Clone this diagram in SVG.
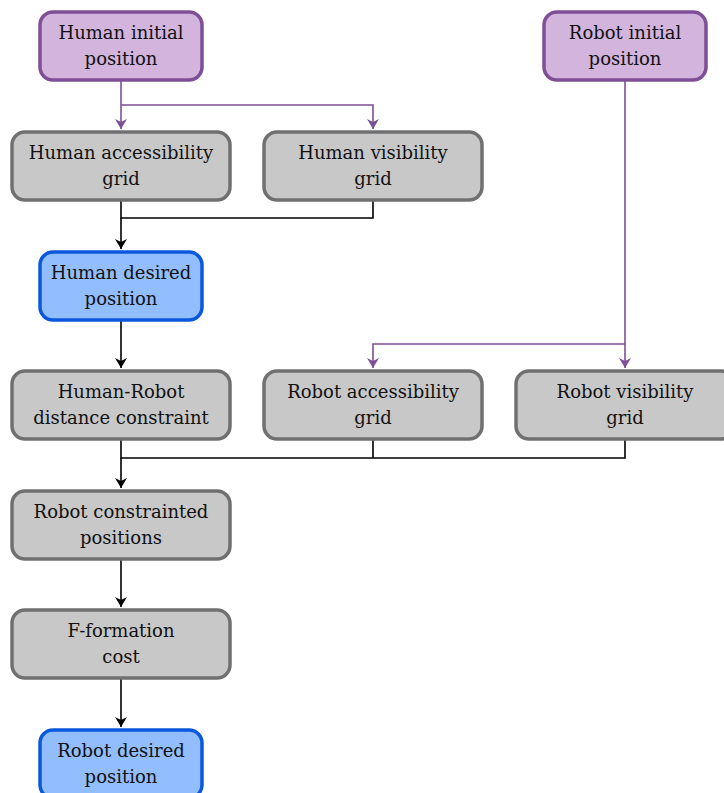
<svg xmlns="http://www.w3.org/2000/svg" width="724" height="793" viewBox="0 0 724 793">
<style>
.n rect{stroke-width:3.5}
.p rect{fill:#d2b4dd;stroke:#7e4f96}
.g rect{fill:#c8c8c8;stroke:#707070}
.b rect{fill:#92bdff;stroke:#0a58dd}
text{font-family:"DejaVu Serif","Liberation Serif",serif;font-size:18px;fill:#111;text-anchor:middle}
.c path{fill:none;stroke-width:1.6}
.pc{stroke:#7e4f96}
.kc{stroke:#000}
</style>
<defs>
<marker id="ap" viewBox="0 0 10 12" refX="10" refY="6" markerWidth="10" markerHeight="12" markerUnits="userSpaceOnUse" orient="auto"><path d="M0,0 L10,6 L0,12 L3,6 Z" fill="#7e4f96"/></marker>
<marker id="ak" viewBox="0 0 10 12" refX="10" refY="6" markerWidth="10" markerHeight="12" markerUnits="userSpaceOnUse" orient="auto"><path d="M0,0 L10,6 L0,12 L3,6 Z" fill="#000"/></marker>
</defs>
<g class="c">
<path class="pc" d="M121,81 V129" marker-end="url(#ap)"/>
<path class="pc" d="M121,105 H373 V129" marker-end="url(#ap)"/>
<path class="kc" d="M121,201 V218 H373 V201"/>
<path class="kc" d="M121,218 V249" marker-end="url(#ak)"/>
<path class="kc" d="M121,321 V368" marker-end="url(#ak)"/>
<path class="pc" d="M625,81 V368" marker-end="url(#ap)"/>
<path class="pc" d="M625,344 H373 V368" marker-end="url(#ap)"/>
<path class="kc" d="M121,440 V458 H625 V440 M373,440 V458"/>
<path class="kc" d="M121,458 V488" marker-end="url(#ak)"/>
<path class="kc" d="M121,560 V607" marker-end="url(#ak)"/>
<path class="kc" d="M121,679 V727" marker-end="url(#ak)"/>
</g>
<g id="human-initial" class="n p"><rect x="40" y="12" width="162" height="68" rx="13"/><text x="121" y="39">Human initial</text><text x="121" y="65">position</text></g>
<g id="robot-initial" class="n p"><rect x="544" y="12" width="162" height="68" rx="13"/><text x="625" y="39">Robot initial</text><text x="625" y="65">position</text></g>
<g id="human-access" class="n g"><rect x="12" y="132" width="218" height="68" rx="13"/><text x="121" y="159">Human accessibility</text><text x="121" y="185">grid</text></g>
<g id="human-vis" class="n g"><rect x="264" y="132" width="218" height="68" rx="13"/><text x="373" y="159">Human visibility</text><text x="373" y="185">grid</text></g>
<g id="human-desired" class="n b"><rect x="40" y="252" width="162" height="68" rx="13"/><text x="121" y="279">Human desired</text><text x="121" y="305">position</text></g>
<g id="hr-distance" class="n g"><rect x="12" y="371" width="218" height="68" rx="13"/><text x="121" y="398">Human-Robot</text><text x="121" y="424">distance constraint</text></g>
<g id="robot-access" class="n g"><rect x="264" y="371" width="218" height="68" rx="13"/><text x="373" y="398">Robot accessibility</text><text x="373" y="424">grid</text></g>
<g id="robot-vis" class="n g"><rect x="516" y="371" width="218" height="68" rx="13"/><text x="625" y="398">Robot visibility</text><text x="625" y="424">grid</text></g>
<g id="robot-constrained" class="n g"><rect x="12" y="491" width="218" height="68" rx="13"/><text x="121" y="518">Robot constrainted</text><text x="121" y="544">positions</text></g>
<g id="fformation" class="n g"><rect x="12" y="610" width="218" height="68" rx="13"/><text x="121" y="637">F-formation</text><text x="121" y="663">cost</text></g>
<g id="robot-desired" class="n b"><rect x="40" y="730" width="162" height="68" rx="13"/><text x="121" y="757">Robot desired</text><text x="121" y="783">position</text></g>
</svg>
